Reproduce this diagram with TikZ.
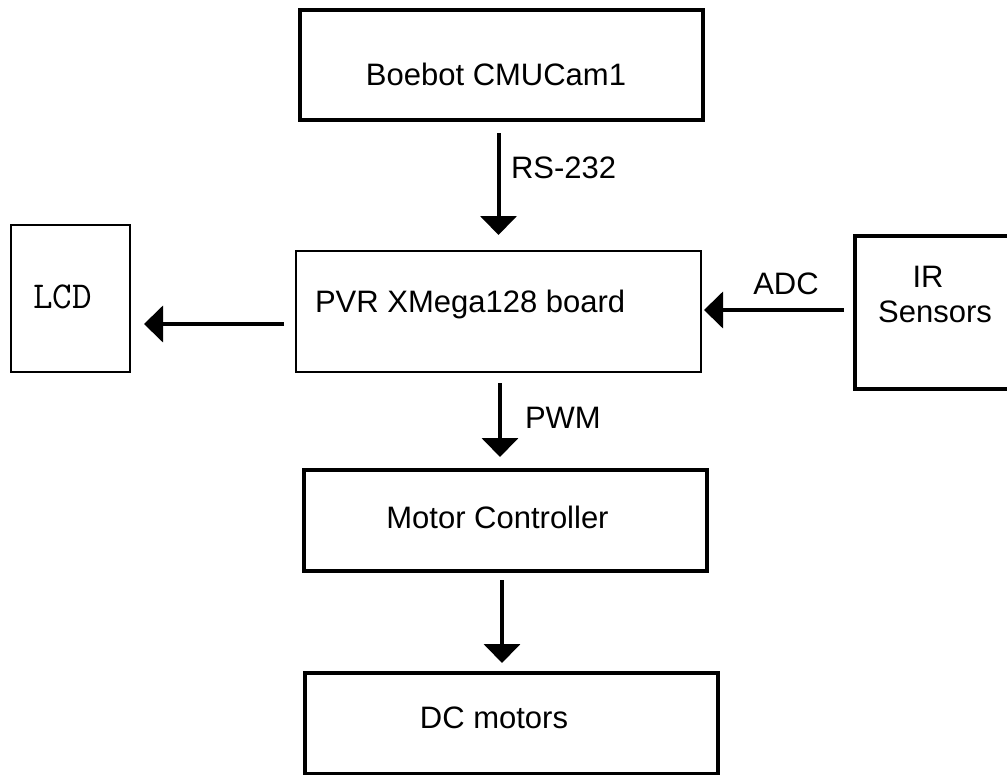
\documentclass[tikz,border=0pt]{standalone}
\usepackage{fontspec}
\setmainfont{Liberation Sans}
\usetikzlibrary{arrows.meta,calc}
\tikzset{
  thickbox/.style={draw, line width=4pt, inner sep=0pt, outer sep=0pt},
  thinbox/.style={draw, line width=2pt, inner sep=0pt, outer sep=0pt},
  txt/.style={inner sep=0pt, outer sep=0pt, font=\fontsize{31}{37}\selectfont},
  arr/.style={line width=4pt, -{Triangle[length=19pt,width=36pt]}},
}
\begin{document}
\begin{tikzpicture}[x=1pt,y=-1pt]
\useasboundingbox (0,0) rectangle (1007,774);
\clip (0,0) rectangle (1007,774);
% boxes
\node[thickbox, minimum width=403pt, minimum height=110pt] (boe) at (501.5,65) {};
\node[thinbox, minimum width=405pt, minimum height=121pt] (pvr) at (498.5,311.5) {};
\node[thinbox, minimum width=119pt, minimum height=147pt] (lcd) at (70.5,298.5) {};
\node[thickbox, minimum width=155pt, minimum height=153pt] (ir) at (932.5,312.5) {};
\node[thickbox, minimum width=403pt, minimum height=101pt] (mc) at (505.5,520.5) {};
\node[thickbox, minimum width=413pt, minimum height=101pt] (dc) at (511.5,723.5) {};
% texts
\node[txt, anchor=base] (boeT) at (496,85) {Boebot CMUCam1};
\node[txt, anchor=base west] (pvrT) at (315,312) {PVR XMega128 board};
\node[txt, anchor=base, font=\ttfamily\fontsize{38}{44}\selectfont] (lcdT) at (62.5,308) {LCD};
\node[txt, anchor=base] (irT1) at (928,287) {IR};
\node[txt, anchor=base] (irT2) at (935,322) {Sensors};
\node[txt, anchor=base] (mcT) at (497.5,528) {Motor Controller};
\node[txt, anchor=base] (dcT) at (494,728) {DC motors};
% connectors
\draw[arr, shorten <=13pt, shorten >=16pt] (boe.south -| pvr.north) -- (pvr.north);
\draw[arr, shorten <=11pt, shorten >=13pt] ($(pvr.south)+(1.5,0)$) -- ($(pvr.south |- mc.north)+(1.5,0)$);
\draw[arr, shorten <=9pt, shorten >=10pt] ($(mc.south)+(-3.5,0)$) -- ($(mc.south |- dc.north)+(-3.5,0)$);
\draw[arr, shorten <=12pt, shorten >=14pt] ($(pvr.west)+(0,12.5)$) -- ($(lcd.east |- pvr.west)+(0,12.5)$);
\draw[arr, shorten <=11pt, shorten >=3pt] ($(ir.west)+(0,-2.5)$) -- ($(ir.west -| pvr.east)+(0,-2.5)$);
% connector labels
\node[txt, anchor=base west] (rsL) at (511,178) {RS-232};
\node[txt, anchor=base west] (pwmL) at (525,428) {PWM};
\node[txt, anchor=base] (adcL) at (786,294) {ADC};
\end{tikzpicture}
\end{document}
